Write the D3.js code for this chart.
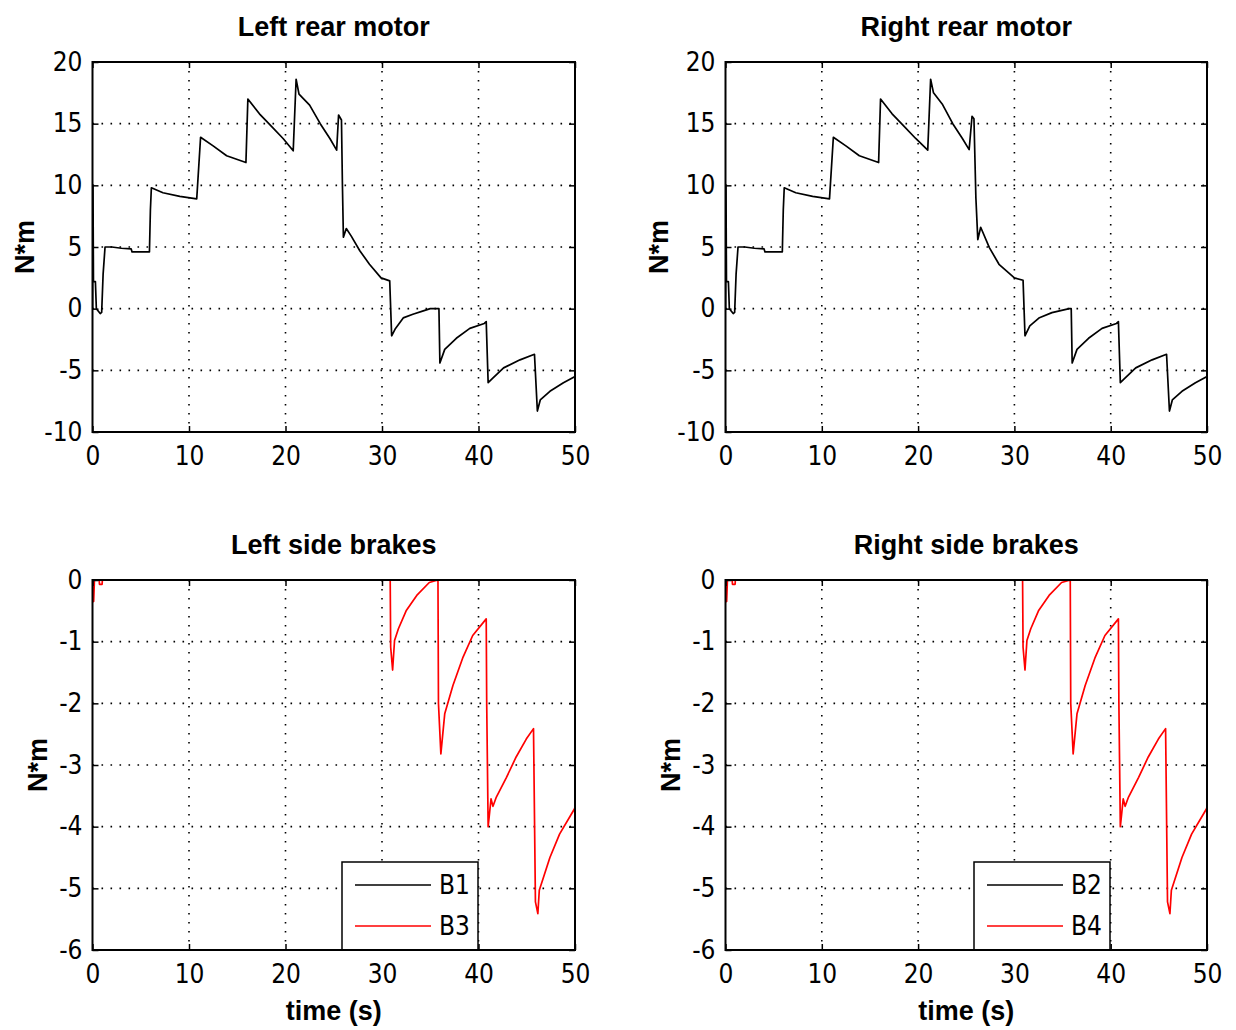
<!DOCTYPE html>
<html><head><meta charset="utf-8">
<script src="https://cdn.jsdelivr.net/npm/d3@7"></script>
<style>body{margin:0;background:#fff}</style>
</head><body><svg id="c" width="1236" height="1030"></svg>
<script>
// ---------- DATA ----------
const timeTicks = [0, 10, 20, 30, 40, 50];
const motorTicks = [-10, -5, 0, 5, 10, 15, 20];
const brakeTicks = [-6, -5, -4, -3, -2, -1, 0];

const titles = ["Left rear motor", "Right rear motor", "Left side brakes", "Right side brakes"];
const yLabel = "N*m";
const xLabel = "time (s)";
const leftLegend = ["B1", "B3"];
const rightLegend = ["B2", "B4"];

const leftMotorTime = [0,0.05,0.1,0.3,0.4,0.8,0.95,1.1,1.3,2,3,4,4.1,5.9,6.0,6.1,7.3,9.05,10.8,11.2,12.5,13.9,15.9,16.1,17.3,18.4,19.75,20.8,21.1,21.4,22.5,23.6,24.6,25.3,25.5,25.8,25.9,26.0,26.3,26.8,27.7,28.7,29.9,30.8,31.0,31.4,32.2,33.2,34.2,35.0,35.9,36.0,36.5,37.7,39.1,40.6,40.8,41.0,41.4,42.6,44.3,45.8,46.1,46.4,47.4,48.8,50];
const leftMotorValue = [0,10,2.2,2.2,0,-0.4,-0.3,2.8,5,5,4.9,4.85,4.6,4.6,8,9.8,9.4,9.1,8.9,13.9,13.2,12.4,11.85,17.0,15.8,14.9,13.8,12.8,18.6,17.4,16.5,15.0,13.8,12.85,15.7,15.3,10,5.8,6.5,5.9,4.7,3.6,2.5,2.25,-2.2,-1.6,-0.75,-0.45,-0.2,0,0,-4.4,-3.3,-2.4,-1.6,-1.2,-1.05,-6.0,-5.7,-4.8,-4.15,-3.7,-8.3,-7.4,-6.7,-6.0,-5.5];

const rightMotorTime = [0,0.05,0.1,0.3,0.4,0.8,0.95,1.1,1.3,2,3,4,4.1,5.9,6.0,6.1,7.3,9.05,10.8,11.2,12.5,13.9,15.9,16.1,17.3,18.4,19.75,21.0,21.3,21.6,22.5,23.6,24.6,25.3,25.6,25.8,26.0,26.2,26.5,27.4,28.4,30.0,30.9,31.1,31.6,32.6,33.9,35.7,35.9,36.0,36.5,37.7,39.1,40.6,40.8,41.0,41.4,42.6,44.3,45.8,46.1,46.4,47.4,48.8,50];
const rightMotorValue = [0,10,2.2,2.2,0,-0.4,-0.3,2.8,5,5,4.9,4.85,4.6,4.6,8,9.8,9.4,9.1,8.9,13.9,13.2,12.4,11.85,17.0,15.8,14.9,13.8,12.85,18.6,17.5,16.6,15.0,13.8,12.9,15.6,15.4,9,5.6,6.6,4.95,3.6,2.5,2.3,-2.2,-1.4,-0.73,-0.32,0,0,-4.4,-3.3,-2.4,-1.6,-1.2,-1.05,-6.0,-5.7,-4.8,-4.15,-3.7,-8.3,-7.4,-6.7,-6.0,-5.5];

const b1Time = [0, 50];
const b1Value = [0, 0];
const b2Time = [0, 50];
const b2Value = [0, 0];

const b3Time = [0,0.1,0.12,0.2,0.7,0.72,1.0,1.02,30.85,30.9,31.1,31.3,31.7,32.5,33.6,34.9,35.8,35.85,36.1,36.5,37.35,38.4,39.4,40.8,40.85,41.0,41.3,41.5,41.85,42.9,43.9,44.95,45.7,45.9,46.15,46.3,47.4,48.4,49.95,50];
const b3Value = [0,-0.35,-0.35,0,0,-0.07,-0.07,0,0,-1.09,-1.46,-0.98,-0.79,-0.5,-0.25,-0.04,0,-2.0,-2.82,-2.17,-1.71,-1.25,-0.9,-0.63,-2.0,-4.0,-3.55,-3.67,-3.52,-3.2,-2.87,-2.58,-2.41,-5.22,-5.41,-5.03,-4.5,-4.12,-3.71,-3.68];

const b4Time = [0,0.1,0.12,0.2,0.7,0.72,1.0,1.02,30.85,30.9,31.1,31.3,31.7,32.5,33.6,34.9,35.8,35.85,36.1,36.5,37.35,38.4,39.4,40.8,40.85,41.0,41.3,41.5,41.85,42.9,43.9,44.95,45.7,45.9,46.15,46.3,47.4,48.4,49.95,50];
const b4Value = [0,-0.35,-0.35,0,0,-0.07,-0.07,0,0,-1.09,-1.46,-0.98,-0.79,-0.5,-0.25,-0.04,0,-2.0,-2.82,-2.17,-1.71,-1.25,-0.9,-0.63,-2.0,-4.0,-3.55,-3.67,-3.52,-3.2,-2.87,-2.58,-2.41,-5.22,-5.41,-5.03,-4.5,-4.12,-3.71,-3.68];

// ---------- DRAWING ----------
const svg = d3.select('#c');
svg.append('rect').attr('width', 1236).attr('height', 1030).attr('fill', '#fff');
const TICKFONT = '"Liberation Sans Narrow","DejaVu Sans Condensed","Liberation Sans",sans-serif';
const BOLDFONT = '"Liberation Sans",Arial,sans-serif';
const fmt = d => String(d);  // plain hyphen-minus like the reference

function panel(o, idx) {
  const x = d3.scaleLinear().domain([0, 50]).range([o.left, o.right]);
  const y = d3.scaleLinear().domain(d3.extent(o.yticks)).range([o.bottom, o.top]);
  const g = svg.append('g');
  const W = o.right - o.left, H = o.bottom - o.top;

  // grid
  g.selectAll('.vg').data(timeTicks.slice(1, -1)).join('line')
    .attr('x1', d => x(d)).attr('x2', d => x(d)).attr('y1', o.top).attr('y2', o.bottom)
    .attr('stroke', '#000').attr('stroke-width', 1.6).attr('stroke-dasharray', '1.6,7.4');
  g.selectAll('.hg').data(o.yticks.slice(1, -1)).join('line')
    .attr('y1', d => y(d)).attr('y2', d => y(d)).attr('x1', o.left).attr('x2', o.right)
    .attr('stroke', '#000').attr('stroke-width', 1.6).attr('stroke-dasharray', '1.6,7.4');

  // clip
  const cid = 'clip' + idx;
  svg.append('clipPath').attr('id', cid).append('rect')
    .attr('x', o.left).attr('y', o.top - 1).attr('width', W).attr('height', H + 2);
  const line = d3.line().x(d => x(d[0])).y(d => y(d[1]));
  const lg = g.append('g').attr('clip-path', `url(#${cid})`);
  o.series.forEach(s => {
    lg.append('path').datum(d3.zip(s.t, s.v))
      .attr('d', line).attr('fill', 'none').attr('stroke', s.color)
      .attr('stroke-width', 1.7).attr('stroke-linejoin', 'round');
  });

  // axes (inner ticks)
  const ax = [
    {a: d3.axisBottom(x).tickValues(timeTicks).tickSize(-6).tickPadding(15).tickFormat(fmt), t: `translate(0,${o.bottom})`},
    {a: d3.axisTop(x).tickValues(timeTicks).tickSize(-6).tickFormat(''), t: `translate(0,${o.top})`},
    {a: d3.axisLeft(y).tickValues(o.yticks).tickSize(-6).tickPadding(10).tickFormat(fmt), t: `translate(${o.left},0)`},
    {a: d3.axisRight(y).tickValues(o.yticks).tickSize(-6).tickFormat(''), t: `translate(${o.right},0)`}
  ];
  ax.forEach(A => {
    const ag = g.append('g').attr('transform', A.t).call(A.a);
    ag.select('.domain').remove();
    ag.selectAll('.tick line').attr('stroke', '#000').attr('stroke-width', 1.5);
    ag.selectAll('.tick text').attr('font-family', TICKFONT).attr('font-size', 26).attr('fill', '#000');
  });

  // frame
  g.append('rect').attr('x', o.left).attr('y', o.top).attr('width', W).attr('height', H)
    .attr('fill', 'none').attr('stroke', '#000').attr('stroke-width', 2);

  // title
  g.append('text').attr('x', (o.left + o.right) / 2).attr('y', o.top - 26)
    .attr('text-anchor', 'middle').attr('font-family', BOLDFONT).attr('font-weight', 'bold')
    .attr('font-size', 27).text(o.title);
  // y label
  g.append('text').attr('transform', `translate(${o.left - o.ylabOff},${(o.top + o.bottom) / 2}) rotate(-90)`)
    .attr('text-anchor', 'middle').attr('font-family', BOLDFONT).attr('font-weight', 'bold')
    .attr('font-size', 27).text(yLabel);
  // x label
  if (o.xlab) {
    g.append('text').attr('x', (o.left + o.right) / 2).attr('y', o.bottom + 70)
      .attr('text-anchor', 'middle').attr('font-family', BOLDFONT).attr('font-weight', 'bold')
      .attr('font-size', 27).text(xLabel);
  }
  // legend
  if (o.legend) {
    const bw = 136, bh = 88;
    const bx = o.right - 97 - bw, by = o.bottom - bh;
    const L = g.append('g');
    L.append('rect').attr('x', bx).attr('y', by).attr('width', bw).attr('height', bh)
      .attr('fill', '#fff').attr('stroke', '#000').attr('stroke-width', 1.5);
    o.series.forEach((s, i) => {
      const ly = by + 23 + i * 41;
      L.append('line').attr('x1', bx + 13).attr('x2', bx + 89).attr('y1', ly).attr('y2', ly)
        .attr('stroke', s.color).attr('stroke-width', 1.7);
      L.append('text').attr('x', bx + 97).attr('y', ly).attr('dy', '0.35em')
        .attr('font-family', TICKFONT).attr('font-size', 26).text(o.legend[i]);
    });
    g.append('line').attr('x1', o.left).attr('x2', o.right).attr('y1', o.bottom).attr('y2', o.bottom)
      .attr('stroke', '#000').attr('stroke-width', 2);
  }
}

panel({left: 92.5, right: 575, top: 62, bottom: 432, yticks: motorTicks, title: titles[0], ylabOff: 59,
  series: [{t: leftMotorTime, v: leftMotorValue, color: '#000'}]}, 0);
panel({left: 725.5, right: 1207, top: 62, bottom: 432, yticks: motorTicks, title: titles[1], ylabOff: 58,
  series: [{t: rightMotorTime, v: rightMotorValue, color: '#000'}]}, 1);
panel({left: 92.5, right: 575, top: 580, bottom: 950, yticks: brakeTicks, title: titles[2], ylabOff: 46, xlab: true, legend: leftLegend,
  series: [{t: b1Time, v: b1Value, color: '#000'}, {t: b3Time, v: b3Value, color: '#ff0000'}]}, 2);
panel({left: 725.5, right: 1207, top: 580, bottom: 950, yticks: brakeTicks, title: titles[3], ylabOff: 46, xlab: true, legend: rightLegend,
  series: [{t: b2Time, v: b2Value, color: '#000'}, {t: b4Time, v: b4Value, color: '#ff0000'}]}, 3);
</script>
</body></html>
